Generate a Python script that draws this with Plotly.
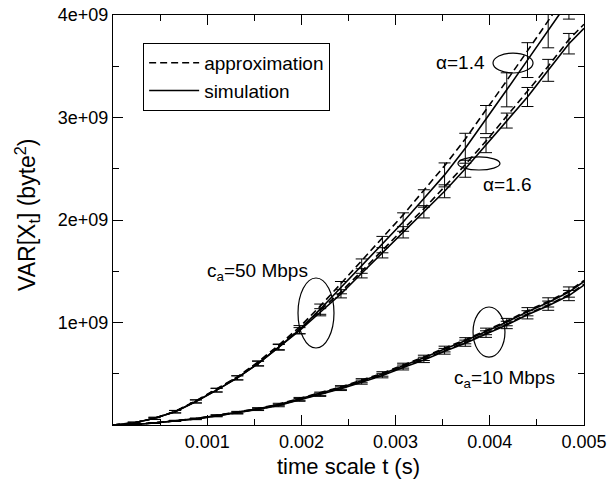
import plotly.graph_objects as go

# ---- data ----
t_sim = [0.00022, 0.00044, 0.00066, 0.00088, 0.00110, 0.00132, 0.00154, 0.00176,
         0.00198, 0.00220, 0.00242, 0.00264, 0.00286, 0.00308, 0.00330, 0.00352,
         0.00374, 0.00396, 0.00418, 0.00440, 0.00462, 0.00484]
t_line = [0.0] + t_sim + [0.005]

# 50 Mbps, alpha = 1.4 (values in 1e9 byte^2)
sim50_a14 = [0.02, 0.065, 0.13, 0.23, 0.34, 0.46, 0.60, 0.76, 0.93, 1.13, 1.34, 1.55,
             1.76, 1.98, 2.21, 2.44, 2.70, 2.98, 3.27, 3.56, 3.85, 4.14]
err50_a14 = [0.008, 0.01, 0.012, 0.015, 0.018, 0.02, 0.025, 0.03, 0.04, 0.05, 0.06, 0.07,
             0.08, 0.09, 0.085, 0.117, 0.146, 0.137, 0.166, 0.17, 0.17, 0.18]
sim50_a14_end = 4.32
approx50_a14 = [0.0, 0.02, 0.066, 0.133, 0.235, 0.35, 0.47, 0.615, 0.78, 0.955, 1.16, 1.38,
                1.60, 1.82, 2.05, 2.29, 2.53, 2.79, 3.07, 3.36, 3.65, 3.95, 4.25, 4.45]

# 50 Mbps, alpha = 1.6
sim50_a16 = [0.02, 0.065, 0.13, 0.23, 0.34, 0.46, 0.60, 0.76, 0.92, 1.10, 1.28, 1.48,
             1.68, 1.88, 2.08, 2.28, 2.50, 2.73, 2.97, 3.20, 3.46, 3.72]
err50_a16 = [0.008, 0.01, 0.012, 0.015, 0.018, 0.02, 0.022, 0.025, 0.03, 0.035, 0.04, 0.045,
             0.05, 0.055, 0.06, 0.063, 0.083, 0.073, 0.073, 0.093, 0.107, 0.10]
sim50_a16_end = 3.87
approx50_a16 = [0.0, 0.02, 0.066, 0.132, 0.233, 0.345, 0.465, 0.607, 0.77, 0.935, 1.12, 1.30,
                1.50, 1.71, 1.91, 2.11, 2.32, 2.54, 2.77, 3.01, 3.25, 3.50, 3.76, 3.91]

# 10 Mbps, alpha = 1.4
sim10_a14 = [0.005, 0.02, 0.04, 0.062, 0.092, 0.123, 0.158, 0.20, 0.255, 0.305, 0.366, 0.432,
             0.498, 0.579, 0.655, 0.741, 0.822, 0.913, 1.004, 1.105, 1.196, 1.297]
err10_a14 = [0.003, 0.004, 0.005, 0.006, 0.008, 0.01, 0.011, 0.012, 0.014, 0.016, 0.018, 0.02,
             0.022, 0.024, 0.026, 0.028, 0.03, 0.032, 0.036, 0.04, 0.045, 0.05]
sim10_a14_end = 1.40
approx10_a14 = [0.0, 0.005, 0.021, 0.041, 0.064, 0.094, 0.126, 0.161, 0.204, 0.26, 0.31, 0.372,
                0.438, 0.505, 0.586, 0.663, 0.75, 0.831, 0.922, 1.014, 1.115, 1.206, 1.307, 1.41]

# 10 Mbps, alpha = 1.6
sim10_a16 = [0.005, 0.02, 0.04, 0.058, 0.088, 0.117, 0.152, 0.19, 0.245, 0.295, 0.354, 0.418,
             0.482, 0.561, 0.635, 0.719, 0.798, 0.887, 0.976, 1.075, 1.164, 1.263]
err10_a16 = [0.003, 0.004, 0.005, 0.006, 0.008, 0.01, 0.011, 0.012, 0.014, 0.016, 0.018, 0.02,
             0.022, 0.024, 0.026, 0.028, 0.03, 0.032, 0.036, 0.04, 0.045, 0.05]
sim10_a16_end = 1.365
approx10_a16 = [0.0, 0.005, 0.021, 0.041, 0.06, 0.09, 0.12, 0.155, 0.194, 0.25, 0.30, 0.36,
                0.424, 0.489, 0.568, 0.642, 0.727, 0.806, 0.895, 0.984, 1.083, 1.172, 1.271, 1.373]

x_tickvals = [0.001, 0.002, 0.003, 0.004, 0.005]
x_ticktext = ["0.001", "0.002", "0.003", "0.004", "0.005"]
y_tickvals = [1e9, 2e9, 3e9, 4e9]
y_ticktext = ["1e+09", "2e+09", "3e+09", "4e+09"]

SCALE = 1e9
FONT = "Liberation Sans, Arial, Helvetica, sans-serif"
DASH = "7px,4px"

fig = go.Figure()

def sc(vals):
    return [v * SCALE for v in vals]

sim_sets = [
    (sim50_a14, err50_a14, sim50_a14_end),
    (sim50_a16, err50_a16, sim50_a16_end),
    (sim10_a14, err10_a14, sim10_a14_end),
    (sim10_a16, err10_a16, sim10_a16_end),
]
approx_sets = [approx50_a14, approx50_a16, approx10_a14, approx10_a16]

# approximation lines (dashed)
for i, ap in enumerate(approx_sets):
    fig.add_trace(go.Scatter(
        x=t_line, y=sc(ap), mode="lines",
        line=dict(color="black", width=1.6, dash=DASH),
        name="approximation", showlegend=(i == 0), legendrank=1,
    ))

# simulation lines (solid) and error bars
for i, (sv, ev, end) in enumerate(sim_sets):
    fig.add_trace(go.Scatter(
        x=t_line, y=sc([0.0] + sv + [end]), mode="lines",
        line=dict(color="black", width=1.6),
        name="simulation", showlegend=(i == 0), legendrank=2,
    ))
    fig.add_trace(go.Scatter(
        x=t_sim, y=sc(sv), mode="markers",
        marker=dict(size=1, color="rgba(0,0,0,0)"),
        error_y=dict(type="data", array=sc(ev), visible=True,
                     color="black", thickness=1, width=6),
        showlegend=False, hoverinfo="skip",
    ))

# ellipses (data coordinates)
ellipses = [
    (0.004034, 0.004459, 3.434, 3.629),
    (0.003662, 0.004108, 2.488, 2.615),
    (0.001964, 0.002346, 0.751, 1.434),
    (0.003822, 0.004161, 0.663, 1.151),
]
for x0, x1, y0, y1 in ellipses:
    fig.add_shape(type="circle", xref="x", yref="y",
                  x0=x0, x1=x1, y0=y0 * SCALE, y1=y1 * SCALE,
                  line=dict(color="black", width=1.2))

labels = [
    ("α=1.4", 0.003684, 3.54),
    ("α=1.6", 0.004183, 2.35),
    ("c<sub>a</sub>=50 Mbps", 0.001539, 1.49),
    ("c<sub>a</sub>=10 Mbps", 0.004161, 0.45),
]
for txt, x, y in labels:
    fig.add_annotation(x=x, y=y * SCALE, xref="x", yref="y", text=txt,
                       showarrow=False, font=dict(size=19, color="black", family=FONT),
                       xanchor="center", yanchor="middle")

# axis titles
fig.add_annotation(x=0.5, y=-0.102, xref="paper", yref="paper",
                   text="time scale t (s)", showarrow=False,
                   font=dict(size=22, color="black", family=FONT),
                   xanchor="center", yanchor="middle")
fig.add_annotation(x=-0.183, y=0.512, xref="paper", yref="paper",
                   text="VAR[X<sub>t</sub>] (byte<sup>2</sup>)", showarrow=False,
                   textangle=-90,
                   font=dict(size=23, color="black", family=FONT),
                   xanchor="center", yanchor="middle")

axis_common = dict(
    showline=True, linecolor="black", linewidth=1.3, mirror="allticks",
    ticks="inside", ticklen=10, tickwidth=1, tickcolor="black",
    showgrid=False, zeroline=False, automargin=False,
    tickfont=dict(size=18, color="black", family=FONT),
)

fig.update_xaxes(
    range=[0, 0.005], tickmode="array", tickvals=x_tickvals, ticktext=x_ticktext,
    minor=dict(ticks="inside", ticklen=6, dtick=0.0005, tick0=0, tickcolor="black", showgrid=False),
    **axis_common,
)
fig.update_yaxes(
    range=[0, 4e9], tickmode="array", tickvals=y_tickvals, ticktext=y_ticktext,
    minor=dict(ticks="inside", ticklen=6, dtick=5e8, tick0=0, tickcolor="black", showgrid=False),
    **axis_common,
)

fig.update_layout(
    width=608, height=479,
    margin=dict(l=113, r=24, t=15, b=54),
    paper_bgcolor="white", plot_bgcolor="white",
    font=dict(family=FONT, color="black"),
    showlegend=True,
    legend=dict(
        x=0.064, y=0.932, xanchor="left", yanchor="top",
        bordercolor="black", borderwidth=1, bgcolor="white",
        font=dict(size=19, color="black", family=FONT),
        tracegroupgap=0, itemwidth=50,
    ),
)

fig.write_html("out.html")
